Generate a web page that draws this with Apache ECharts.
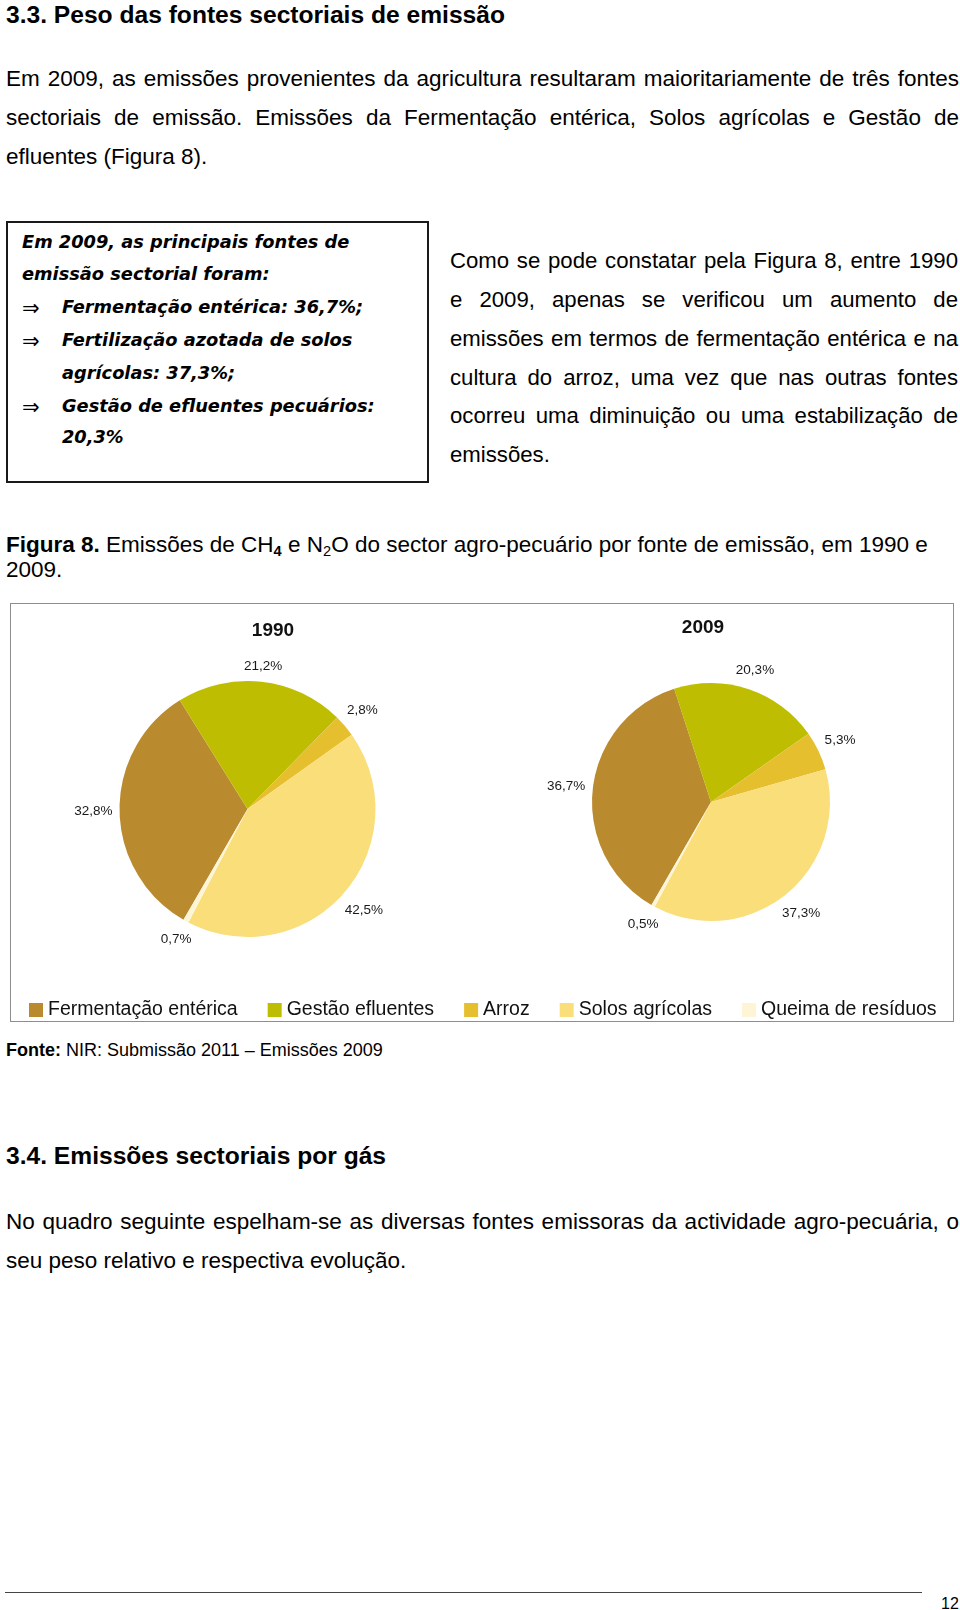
<!DOCTYPE html>
<html>
<head>
<meta charset="utf-8">
<script src="https://cdn.jsdelivr.net/npm/echarts@6/dist/echarts.min.js"></script>
<style>
  html, body { margin:0; padding:0; background:#fff; }
  body { width:960px; height:1610px; position:relative; overflow:hidden; font-family:"Liberation Sans", Arial, sans-serif; color:#000; }
  .ln { position:absolute; white-space:nowrap; }
  .j { position:absolute; text-align:justify; text-align-last:justify; }
  .body { font-size:22.5px; height:32px; line-height:32px; }
  .h { font-size:24.6px; font-weight:bold; height:32px; line-height:32px; }
  .bx { font-family:"DejaVu Sans", Verdana, sans-serif; font-weight:bold; font-style:italic; font-size:17.8px; height:26px; line-height:26px; }
  .arr { font-family:"DejaVu Sans", sans-serif; font-size:21px; height:26px; line-height:26px; }
  sub { font-size:65%; vertical-align:baseline; position:relative; top:0.3em; }
</style>
</head>
<body>
<!-- section heading -->
<div class="ln h" style="left:6px; top:-1px;">3.3. Peso das fontes sectoriais de emissão</div>

<div class="j body" style="left:6px; width:953px; top:63px;">Em 2009, as emissões provenientes da agricultura resultaram maioritariamente de três fontes</div>
<div class="j body" style="left:6px; width:953px; top:102px;">sectoriais de emissão. Emissões da Fermentação entérica, Solos agrícolas e Gestão de</div>
<div class="ln body" style="left:6px; top:141px;">efluentes (Figura 8).</div>

<!-- boxed summary -->
<div style="position:absolute; left:6px; top:221px; width:423px; height:262px; border:2px solid #1a1a1a; box-sizing:border-box;"></div>
<div class="ln bx" style="left:22px; top:229px;">Em 2009, as principais fontes de</div>
<div class="ln bx" style="left:22px; top:261px;">emissão sectorial foram:</div>
<div class="ln arr" style="left:22px; top:295px;">⇒</div>
<div class="ln bx" style="left:62px; top:294px;">Fermentação entérica: 36,7%;</div>
<div class="ln arr" style="left:22px; top:328px;">⇒</div>
<div class="ln bx" style="left:62px; top:327px;">Fertilização azotada de solos</div>
<div class="ln bx" style="left:62px; top:360px;">agrícolas: 37,3%;</div>
<div class="ln arr" style="left:22px; top:394px;">⇒</div>
<div class="ln bx" style="left:62px; top:393px;">Gestão de efluentes pecuários:</div>
<div class="ln bx" style="left:62px; top:424px;">20,3%</div>

<!-- right column -->
<div class="j body" style="left:450px; width:508px; font-size:22.2px; top:245px;">Como se pode constatar pela Figura 8, entre 1990</div>
<div class="j body" style="left:450px; width:508px; font-size:22.2px; top:284px;">e 2009, apenas se verificou um aumento de</div>
<div class="j body" style="left:450px; width:508px; font-size:22.2px; top:323px;">emissões em termos de fermentação entérica e na</div>
<div class="j body" style="left:450px; width:508px; font-size:22.2px; top:362px;">cultura do arroz, uma vez que nas outras fontes</div>
<div class="j body" style="left:450px; width:508px; font-size:22.2px; top:400px;">ocorreu uma diminuição ou uma estabilização de</div>
<div class="ln body" style="left:450px; font-size:22.2px; top:439px;">emissões.</div>

<!-- caption -->
<div class="ln body" style="left:6px; top:529px;"><b>Figura 8.</b> Emissões de CH<sub><b>4</b></sub> e N<sub>2</sub>O do sector agro-pecuário por fonte de emissão, em 1990 e</div>
<div class="ln body" style="left:6px; top:554px;">2009.</div>

<!-- chart -->
<div style="position:absolute; left:10px; top:603px; width:944px; height:419px; border:1px solid #8e8e8e; box-sizing:border-box;"></div>
<div id="chart" style="position:absolute; left:10px; top:603px; width:944px; height:419px;"></div>

<div class="ln" style="left:6px; top:1039px; font-size:18px; line-height:22px;"><b>Fonte:</b> NIR: Submissão 2011 – Emissões 2009</div>

<div class="ln h" style="left:6px; top:1140px;">3.4. Emissões sectoriais por gás</div>
<div class="j body" style="left:6px; width:953px; top:1206px;">No quadro seguinte espelham-se as diversas fontes emissoras da actividade agro-pecuária, o</div>
<div class="ln body" style="left:6px; top:1245px;">seu peso relativo e respectiva evolução.</div>

<div style="position:absolute; left:5px; top:1592px; width:917px; height:0; border-top:1px solid #444;"></div>
<div class="ln" style="left:941px; top:1595px; font-size:16px; line-height:18px;">12</div>

<script>
// ---- data ----
const categories = ['Fermentação entérica', 'Gestão efluentes', 'Arroz', 'Solos agrícolas', 'Queima de resíduos'];
const values1990 = [32.8, 21.2, 2.8, 42.5, 0.7];
const values2009 = [36.7, 20.3, 5.3, 37.3, 0.5];
const chartYears = ['1990', '2009'];
const sliceColors = ['#BA8A2F', '#BFBD02', '#E6BF2F', '#F9DE7A', '#FEF4D6'];

function pct(v) { return v.toFixed(1).replace('.', ',') + '%'; }

// place each label just outside the slice along its mid-angle (spreadsheet style)
function outsideLabelLayout(params) {
  const pts = params.labelLinePoints;
  if (!pts) return {};
  const dx = pts[1][0] - pts[0][0], dy = pts[1][1] - pts[0][1];
  const len = Math.hypot(dx, dy) || 1;
  const ux = dx / len, uy = dy / len;
  const w = params.labelRect.width, h = params.labelRect.height;
  const off = 7 + Math.abs(ux) * w / 2 + Math.abs(uy) * h / 2;
  return { x: pts[0][0] + ux * off, y: pts[0][1] + uy * off, align: 'center', verticalAlign: 'middle' };
}

function pieSeries(name, values, center, radius) {
  return {
    type: 'pie', name: name, center: center, radius: radius,
    startAngle: 240, clockwise: true, avoidLabelOverlap: false, silent: true,
    data: categories.map((c, i) => ({ name: c, value: values[i] })),
    itemStyle: { borderWidth: 0 },
    label: { show: true, position: 'outside', formatter: p => pct(p.value),
             fontFamily: 'Liberation Sans', fontSize: 13.5, color: '#1a1a1a' },
    labelLine: { show: true, length: 10, length2: 0, lineStyle: { width: 0, opacity: 0 } },
    labelLayout: outsideLabelLayout,
    emphasis: { disabled: true }
  };
}

const chart = echarts.init(document.getElementById('chart'), null, { renderer: 'canvas' });
chart.setOption({
  animation: false,
  color: sliceColors,
  legend: {
    data: categories, left: 14, top: 392, icon: 'rect', itemWidth: 14, itemHeight: 14, itemGap: 30,
    selectedMode: false,
    textStyle: { fontFamily: 'Liberation Sans', fontSize: 19.5, color: '#111' }
  },
  graphic: chartYears.map((y, i) => ({
    type: 'text', x: [263, 693][i], y: [28, 25][i], silent: true,
    style: { text: y, align: 'center', verticalAlign: 'middle', fontFamily: 'Liberation Sans',
             fontSize: 19, fontWeight: 'bold', fill: '#111' }
  })),
  series: [
    pieSeries(chartYears[0], values1990, [237.5, 206], 128),
    pieSeries(chartYears[1], values2009, [701, 199], 119)
  ]
});
</script>
</body>
</html>
